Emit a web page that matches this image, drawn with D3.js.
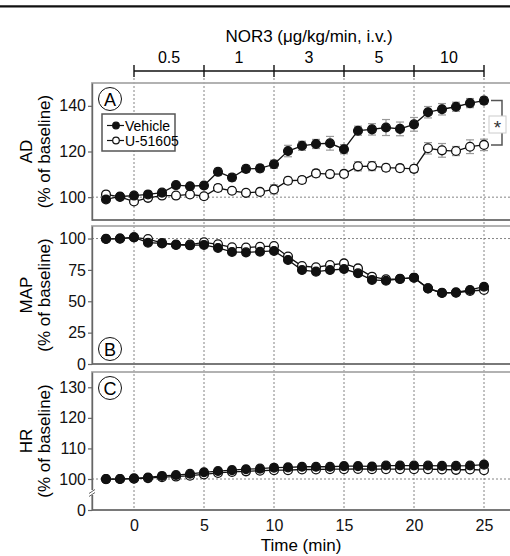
<!DOCTYPE html>
<html>
<head>
<meta charset="utf-8">
<script src="https://cdn.jsdelivr.net/npm/d3@7"></script>
<style>
  body { margin: 0; background: #fff; }
  svg { display: block; font-family: Arial, "Liberation Sans", sans-serif; }
</style>
</head>
<body>
<svg id="chart"></svg>
<script>
// time points (min)
let times = [-2,-1,0,1,2,3,4,5,6,7,8,9,10,11,12,13,14,15,16,17,18,19,20,21,22,23,24,25];

// dose steps of NOR3
let doseLabels = ["0.5","1","3","5","10"];
let doseEdges = [0,5,10,15,20,25];

// AD (% of baseline)
let adVehicle = [99,100.3,100.7,101.2,102,105.3,104.8,105.1,111.1,108.6,112.4,112.6,114.4,120.2,122.5,123.3,123.6,121,129.1,129.7,130.5,129.9,131.9,137.2,138.5,139.6,141.2,142.3];
let adVehicleErr = [1,1,1.2,1,1,1.2,1.2,1.3,1.5,1.5,1.5,1.5,1.8,2.5,2,2,3,2,2,2.5,3.5,3,3,2.5,2.5,2,2,1.5];
let adU = [101.2,100.1,98.1,99.7,100.7,100.7,101.2,100.4,104,102.8,101.9,102.3,103.4,107.2,107.5,110.4,110.1,110.2,113.5,113.6,112.9,112.7,112.4,121.4,120.5,120.2,122.1,122.9];
let adUErr = [1,1,1.2,1,1,1,1.2,1.2,1.5,1.2,1.2,1.2,2,1.5,1.5,1.5,1.5,1.5,2,2,1.5,1.5,1.5,2.5,3,2,3,2.5];

// MAP (% of baseline)
let mapVehicle = [99.6,99.9,100.9,96.7,96.1,94.9,94.6,94.9,92.5,89.3,89,89.5,90.1,82.9,74.9,73.6,74.9,75.7,72.3,67,66.4,67.8,68.8,60.3,56.6,57.1,59,61.6];
let mapVehicleErr = [1,1,1,1.5,1.5,1.5,1.5,1.5,1.5,2,2,2,2,2,2,2,2,2,2,2,2,2,2,2,2,2,2,2];
let mapU = [99.8,100,101,99.6,96.5,95.2,95.2,97,95.4,93,92.8,93.5,94,85.6,78.1,77.1,78.9,80.2,76.2,69.6,67.5,67.9,68.8,60.3,56.8,56.8,58.2,59];
let mapUErr = [1,1,1,1.5,1.5,1.5,1.5,1.5,1.5,2,2,2,2,2,2,2,2,2,2,2,2,2,2,2,2,2,2,2];

// HR (% of baseline)
let hrVehicle = [99.7,99.9,100.2,100.5,101,101.3,101.7,102.2,102.6,102.9,103.2,103.4,103.7,103.8,104,104,104,104.2,104.2,104.1,104.4,104.4,104.4,104.4,104.3,104.3,104.4,104.7];
let hrVehicleErr = [0.5,0.5,0.5,0.6,0.6,0.6,0.7,0.7,0.7,0.8,0.8,0.8,0.8,0.8,0.8,0.8,0.8,0.8,0.8,0.8,0.8,0.8,0.8,0.8,0.8,0.8,0.8,0.8];
let hrU = [99.8,99.9,100.1,100.3,100.6,100.8,101.1,101.5,102,102.3,102.5,102.7,102.9,102.9,103.1,103.1,103.2,103.2,103.3,103.2,103.2,103.2,103.2,103.2,103.1,103,103.1,102.9];
let hrUErr = [0.5,0.5,0.5,0.6,0.6,0.6,0.7,0.7,0.7,0.8,0.8,0.8,0.8,0.8,0.8,0.8,0.8,0.8,0.8,0.8,0.8,0.8,0.8,0.8,0.8,0.8,0.8,0.8];

let adTicks = [100,120,140];
let mapTicks = [0,25,50,75,100];
let hrTicks = [0,100,110,120,130];
let timeTicks = [0,5,10,15,20,25];

let width = 510, height = 556;
let LEFT = 92, RIGHT = 512;

let svg = d3.select("#chart")
    .attr("width", width)
    .attr("height", height);

let x = d3.scaleLinear().domain([-3, 27]).range([LEFT, RIGHT]);

// top rule
svg.append("line")
    .attr("x1", 0).attr("x2", width)
    .attr("y1", 6.3).attr("y2", 6.3)
    .style("stroke", "#111")
    .style("stroke-width", 2.2);

// title + dose bar
svg.append("text")
    .attr("x", (x(0) + x(25)) / 2)
    .attr("y", 42)
    .attr("text-anchor", "middle")
    .style("font-size", "17px")
    .text("NOR3 (\u03bcg/kg/min, i.v.)");

svg.append("line")
    .attr("x1", x(0)).attr("x2", x(25))
    .attr("y1", 71).attr("y2", 71)
    .style("stroke", "#111").style("stroke-width", 1.6);

svg.selectAll(".doseTick")
    .data(doseEdges)
    .enter().append("line")
    .attr("x1", d => x(d)).attr("x2", d => x(d))
    .attr("y1", 65).attr("y2", 77)
    .style("stroke", "#111").style("stroke-width", 1.4);

svg.selectAll(".doseLabel")
    .data(doseLabels)
    .enter().append("text")
    .attr("x", (d, i) => x((doseEdges[i] + doseEdges[i + 1]) / 2))
    .attr("y", 63)
    .attr("text-anchor", "middle")
    .style("font-size", "16px")
    .text(d => d);

// vertical dotted guides
svg.selectAll(".vguide")
    .data(timeTicks)
    .enter().append("line")
    .attr("x1", d => x(d)).attr("x2", d => x(d))
    .attr("y1", 78).attr("y2", 510)
    .style("stroke", "#666")
    .style("stroke-width", 0.8)
    .style("stroke-dasharray", "2,2");

function drawPanel(opts) {
    let y = d3.scaleLinear().domain(opts.domain).range(opts.range);
    let top = opts.range[opts.range.length - 1];
    let bottom = opts.range[0];
    let g = svg.append("g");

    // frame
    g.append("rect")
        .attr("x", LEFT).attr("y", top)
        .attr("width", RIGHT - LEFT).attr("height", bottom - top)
        .style("fill", "none")
        .style("stroke", "#aaa")
        .style("stroke-width", 1.8);

    // baseline
    g.append("line")
        .attr("x1", LEFT).attr("x2", RIGHT)
        .attr("y1", y(100)).attr("y2", y(100))
        .style("stroke", "#666")
        .style("stroke-width", 0.8)
        .style("stroke-dasharray", "2,2");

    let yAxis = g.append("g")
        .attr("transform", `translate(${LEFT},0)`)
        .call(d3.axisLeft(y).tickValues(opts.ticks).tickSize(4).tickPadding(2).tickSizeOuter(0));
    yAxis.select(".domain").style("stroke", "#666").style("stroke-width", 1.4);
    yAxis.selectAll("line").style("stroke", "#666").style("stroke-width", 1.2);
    yAxis.selectAll("text")
        .style("font-size", "16px")
        .style("font-family", "Arial, 'Liberation Sans', sans-serif")
        .style("fill", "#111");

    g.append("line")
        .attr("x1", LEFT).attr("x2", RIGHT)
        .attr("y1", bottom).attr("y2", bottom)
        .style("stroke", "#666").style("stroke-width", 1.4);

    // axis titles
    let mid = (top + bottom) / 2;
    g.append("text")
        .attr("transform", `translate(32,${mid}) rotate(-90)`)
        .attr("text-anchor", "middle")
        .style("font-size", "17px")
        .text(opts.title);
    g.append("text")
        .attr("transform", `translate(50,${mid}) rotate(-90)`)
        .attr("text-anchor", "middle")
        .style("font-size", "17px")
        .text("(% of baseline)");

    // letter badge
    g.append("circle")
        .attr("cx", 110).attr("cy", opts.badgeY).attr("r", 11.5)
        .style("fill", "#fff").style("stroke", "#111").style("stroke-width", 1);
    g.append("text")
        .attr("x", 110).attr("y", opts.badgeY + 6.5)
        .attr("text-anchor", "middle")
        .style("font-size", "18px")
        .text(opts.letter);

    let line = d3.line().x((d, i) => x(times[i])).y(d => y(d));

    opts.series.forEach(s => {
        // error bars
        let eb = g.append("g");
        eb.selectAll("line.v")
            .data(s.values)
            .enter().append("line")
            .attr("x1", (d, i) => x(times[i])).attr("x2", (d, i) => x(times[i]))
            .attr("y1", (d, i) => y(d - s.err[i])).attr("y2", (d, i) => y(d + s.err[i]))
            .style("stroke", "#999").style("stroke-width", 1.2);
        eb.selectAll("line.cap")
            .data(s.values.concat(s.values))
            .enter().append("line")
            .attr("x1", (d, i) => x(times[i % times.length]) - 4)
            .attr("x2", (d, i) => x(times[i % times.length]) + 4)
            .attr("y1", (d, i) => y(i < times.length ? d + s.err[i] : d - s.err[i - times.length]))
            .attr("y2", (d, i) => y(i < times.length ? d + s.err[i] : d - s.err[i - times.length]))
            .style("stroke", "#999").style("stroke-width", 1.2);
    });

    opts.series.forEach(s => {
        g.append("path")
            .datum(s.values)
            .attr("d", line)
            .style("fill", "none")
            .style("stroke", "#111")
            .style("stroke-width", 1.3);
    });

    opts.series.forEach(s => {
        g.selectAll(null)
            .data(s.values)
            .enter().append("circle")
            .attr("cx", (d, i) => x(times[i]))
            .attr("cy", d => y(d))
            .attr("r", 4.4)
            .style("fill", s.fill)
            .style("stroke", "#111")
            .style("stroke-width", 1.3);
    });

    return {g: g, y: y};
}

// panel A
let panelA = drawPanel({
    domain: [90, 150], range: [220, 83], ticks: adTicks, title: "AD",
    letter: "A", badgeY: 99,
    series: [
        {values: adU, err: adUErr, fill: "#fff"},
        {values: adVehicle, err: adVehicleErr, fill: "#111"}
    ]
});

// panel B
drawPanel({
    domain: [0, 110], range: [364, 226], ticks: mapTicks, title: "MAP",
    letter: "B", badgeY: 349,
    series: [
        {values: mapU, err: mapUErr, fill: "#fff"},
        {values: mapVehicle, err: mapVehicleErr, fill: "#111"}
    ]
});

// panel C (broken axis between 0 and 100)
let panelC = drawPanel({
    domain: [0, 100, 135], range: [510, 479, 372], ticks: hrTicks, title: "HR",
    letter: "C", badgeY: 388,
    series: [
        {values: hrU, err: hrUErr, fill: "#fff"},
        {values: hrVehicle, err: hrVehicleErr, fill: "#111"}
    ]
});

// axis break mark
let breakY = 493;
svg.append("rect")
    .attr("x", LEFT - 3).attr("y", breakY - 3)
    .attr("width", 6).attr("height", 5)
    .style("fill", "#fff");
[-1.5, 1.5].forEach(dy => {
    svg.append("line")
        .attr("x1", LEFT - 3).attr("x2", LEFT + 3)
        .attr("y1", breakY + dy + 2).attr("y2", breakY + dy - 2)
        .style("stroke", "#666").style("stroke-width", 1);
});

// legend in panel A
let legend = svg.append("g");
legend.append("rect")
    .attr("x", 102).attr("y", 114)
    .attr("width", 73).attr("height", 37)
    .style("fill", "#fff")
    .style("stroke", "#555")
    .style("stroke-width", 1.5);
let legendItems = [
    {label: "Vehicle", fill: "#111", y: 125.5},
    {label: "U-51605", fill: "#fff", y: 140.5}
];
legendItems.forEach(d => {
    legend.append("line")
        .attr("x1", 107).attr("x2", 124)
        .attr("y1", d.y).attr("y2", d.y)
        .style("stroke", "#111").style("stroke-width", 1.2);
    legend.append("circle")
        .attr("cx", 116).attr("cy", d.y).attr("r", 3.3)
        .style("fill", d.fill).style("stroke", "#111").style("stroke-width", 1.2);
    legend.append("text")
        .attr("x", 125).attr("y", d.y + 5)
        .style("font-size", "14px")
        .text(d.label);
});

// significance bracket
let yA = panelA.y;
let bracketTop = yA(adVehicle[adVehicle.length - 1]);
let bracketBot = yA(adU[adU.length - 1]);
svg.append("path")
    .attr("d", `M491,${bracketTop} H502 V${bracketBot} H491`)
    .style("fill", "none")
    .style("stroke", "#555")
    .style("stroke-width", 1.5);
svg.append("rect")
    .attr("x", 489).attr("y", 116)
    .attr("width", 17).attr("height", 17)
    .style("fill", "#fff")
    .style("stroke", "#ccc")
    .style("stroke-width", 1);
svg.append("text")
    .attr("x", 497.5).attr("y", 134)
    .attr("text-anchor", "middle")
    .style("font-size", "19px")
    .style("fill", "#333")
    .text("*");

// x axis
let xAxis = svg.append("g")
    .attr("transform", "translate(0,510)")
    .call(d3.axisBottom(x).tickValues(timeTicks).tickSize(0).tickPadding(10));
xAxis.select(".domain").remove();
xAxis.selectAll("text")
    .style("font-size", "16px")
    .style("font-family", "Arial, 'Liberation Sans', sans-serif")
    .style("fill", "#111");

svg.append("text")
    .attr("x", 301)
    .attr("y", 551)
    .attr("text-anchor", "middle")
    .style("font-size", "17px")
    .text("Time (min)");
</script>
</body>
</html>
